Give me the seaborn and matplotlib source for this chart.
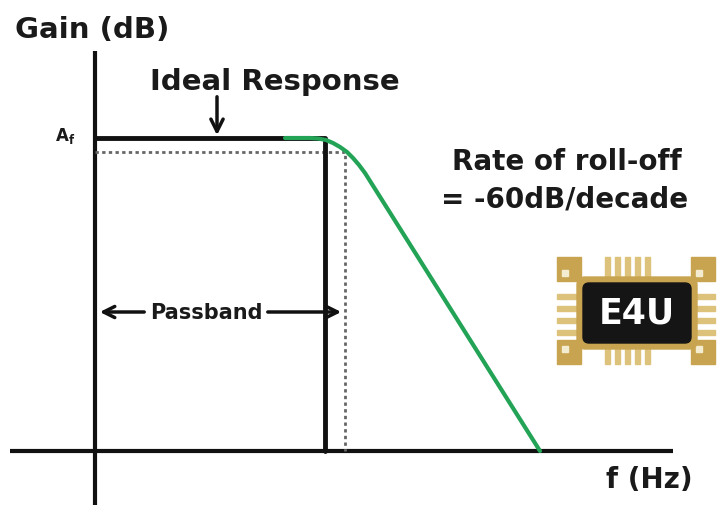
"""
Low-pass filter response diagram: ideal brick-wall vs. real roll-off.
"""
import matplotlib
matplotlib.use("Agg")
import matplotlib.pyplot as plt
from matplotlib.patches import FancyBboxPatch, Rectangle
import pandas as pd
import seaborn as sns

# diagram units, origin where the two axes cross
ideal_freq = [0, 230, 230]
ideal_gain = [313, 313, 0]

cutoff_freq = [0, 250, 250]      # dotted -3 dB guide
cutoff_gain = [299, 299, 0]

rolloff_freq = [190, 215, 223, 231, 238, 245, 252, 258, 264, 270, 445]
rolloff_gain = [313, 313, 312.5, 311, 308, 304, 299, 293, 286, 278, 0]

axis_x = [-85, 578]
axis_y = [-54, 400]

GREEN = "#22a356"
GOLD = "#c8a450"
FONT = ["DejaVu Sans"]

sns.set_theme(style="white")
plt.rcParams["font.family"] = FONT

fig = plt.figure(figsize=(7.17, 5.06), dpi=100)
ax = fig.add_axes([0, 0, 1, 1])
ax.set_xlim(-95, 622)
ax.set_ylim(-54, 452)
ax.axis("off")

# axes of the diagram
ax.plot(axis_x, [0, 0], color="#111111", lw=3, solid_capstyle="butt")
ax.plot([0, 0], axis_y, color="#111111", lw=3, solid_capstyle="butt")

# dotted cutoff guide
sns.lineplot(x=cutoff_freq, y=cutoff_gain, sort=False, estimator=None, ax=ax,
             color="#666666", lw=2, linestyle=(0, (1.2, 1.2)))

# ideal response
sns.lineplot(x=ideal_freq, y=ideal_gain, sort=False, estimator=None, ax=ax,
             color="#111111", lw=3.5)

# real roll-off
rolloff = pd.DataFrame({"freq": rolloff_freq, "gain": rolloff_gain})
sns.lineplot(data=rolloff, x="freq", y="gain", sort=False, estimator=None, ax=ax,
             color=GREEN, lw=3)

bold = dict(fontweight="bold", color="#1a1a1a")
ax.text(-80, 422, "Gain (dB)", fontsize=21, ha="left", va="center", **bold)
ax.text(180, 370, "Ideal Response", fontsize=21, ha="center", va="center", **bold)
ax.annotate("", xy=(122, 313), xytext=(122, 357),
            arrowprops=dict(arrowstyle="->", lw=2.5, color="#111111", mutation_scale=22))
ax.text(-40, 316, r"$\mathbf{A_f}$", fontsize=12, ha="left", va="center", color="#1a1a1a")

ax.text(472, 290, "Rate of roll-off", fontsize=20, ha="center", va="center", **bold)
ax.text(470, 253, "= -60dB/decade", fontsize=20, ha="center", va="center", **bold)

# passband marker
ax.text(111, 139, "Passband", fontsize=15, ha="center", va="center", **bold)
ax.annotate("", xy=(2, 139), xytext=(52, 139),
            arrowprops=dict(arrowstyle="->", lw=2.5, color="#111111", mutation_scale=20))
ax.annotate("", xy=(249, 139), xytext=(170, 139),
            arrowprops=dict(arrowstyle="->", lw=2.5, color="#111111", mutation_scale=20))

ax.text(554, -28, "f (Hz)", fontsize=20, ha="center", va="center", **bold)

# E4U chip logo
x0, x1, y0, y1 = 462, 620, 87, 194
for cx, cy in [(x0, y0), (x1 - 24, y0), (x0, y1 - 24), (x1 - 24, y1 - 24)]:
    ax.add_patch(Rectangle((cx, cy), 24, 24, color=GOLD, zorder=3))
    ax.add_patch(Rectangle((cx + 5, cy + 5 if cy > y0 else cy + 12), 6, 6,
                           color="#f4ecd0", zorder=4))
for i in range(5):
    px = 510 + i * 10
    ax.add_patch(Rectangle((px, y0), 5, 107, color="#dcc27a", zorder=3))
for i in range(4):
    py = 116 + i * 12
    ax.add_patch(Rectangle((x0, py), 158, 5, color="#dcc27a", zorder=3))
ax.add_patch(FancyBboxPatch((482, 102), 120, 72, boxstyle="round,pad=0,rounding_size=8",
                            color=GOLD, zorder=5))
ax.add_patch(FancyBboxPatch((488, 108), 108, 60, boxstyle="round,pad=0,rounding_size=6",
                            color="#151515", zorder=6))
ax.text(542, 138, "E4U", fontsize=25, ha="center", va="center", color="white",
        fontweight="bold", zorder=7)

fig.savefig("out.png", dpi=100)
